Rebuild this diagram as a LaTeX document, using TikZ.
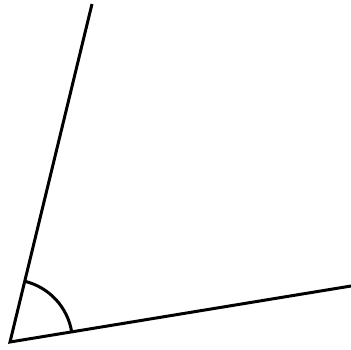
\documentclass[tikz,border=0pt]{standalone}
\usetikzlibrary{angles}

\begin{document}
\begin{tikzpicture}[
  ray/.style={line width=1.7pt, draw=black}
]
\useasboundingbox (0,0) rectangle (7.02,6.98);
\coordinate (O) at (0.20,0.14);
\coordinate (A) at (1.84,6.90);
\coordinate (B) at (7.02,1.26);
\draw[ray] (A) -- (O) -- (B);
\pic[draw, line width=1.7pt, angle radius=1.25cm] {angle=B--O--A};
\end{tikzpicture}
\end{document}
